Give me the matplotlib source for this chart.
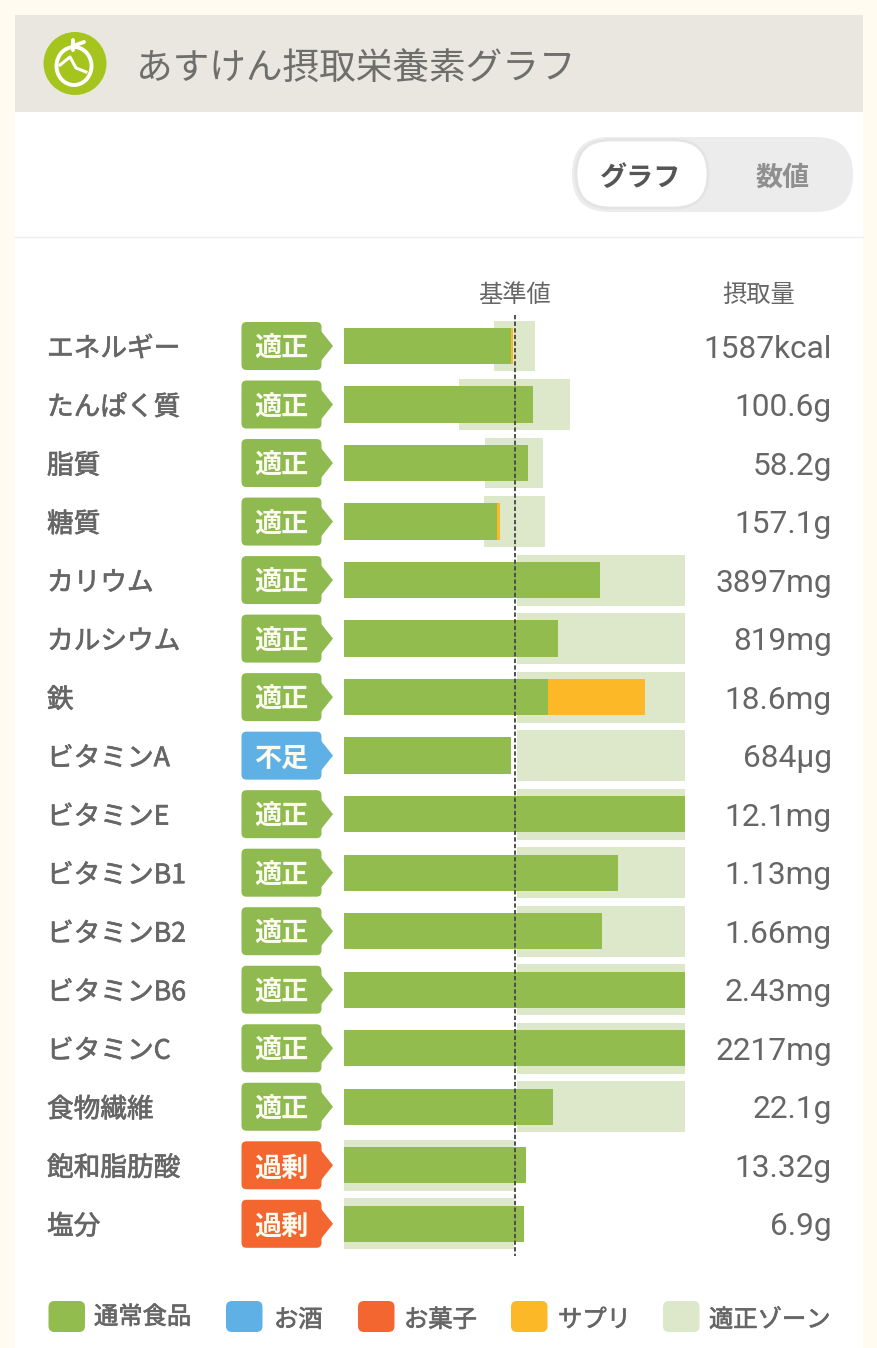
"""Recreate the asken nutrient intake bar chart screenshot."""
import matplotlib
matplotlib.use('Agg')
import matplotlib.pyplot as plt
import matplotlib.patheffects as pe
from matplotlib.patches import FancyBboxPatch, Polygon, Ellipse, Rectangle

plt.rcParams['font.family'] = ['Noto Sans CJK JP', 'DejaVu Sans']

# data, in % of the reference value (bar scale runs to XMAX, the clip edge)
XMAX = 199.4
nutrients = ['エネルギー', 'たんぱく質', '脂質', '糖質', 'カリウム', 'カルシウム', '鉄',
             'ビタミンA', 'ビタミンE', 'ビタミンB1', 'ビタミンB2', 'ビタミンB6',
             'ビタミンC', '食物繊維', '飽和脂肪酸', '塩分']
status = ['適正', '適正', '適正', '適正', '適正', '適正', '適正', '不足',
          '適正', '適正', '適正', '適正', '適正', '適正', '過剰', '過剰']
amounts = ['1587kcal', '100.6g', '58.2g', '157.1g', '3897mg', '819mg', '18.6mg', '684μg',
           '12.1mg', '1.13mg', '1.66mg', '2.43mg', '2217mg', '22.1g', '13.32g', '6.9g']
food = [97.7, 110.8, 107.4, 89.3, 149.7, 125.4, 119.3, 97.5,
        199.4, 160.5, 150.9, 199.4, 199.4, 122.5, 106.4, 105.3]
supplement = [1.2, 0, 0, 1.9, 0, 0, 56.7, 0, 0, 0, 0, 0, 0, 0, 0, 0]
zone_low = [87.9, 67.0, 82.6, 82.0, 101, 101, 101, 101,
            101, 101, 101, 101, 101, 101, 0, 0]
zone_high = [111.5, 132.3, 116.2, 117.4, 199.4, 199.4, 199.4, 199.4,
             199.4, 199.4, 199.4, 199.4, 199.4, 199.4, 99.5, 99.5]
legend_labels = ['通常食品', 'お酒', 'お菓子', 'サプリ', '適正ゾーン']

GREEN = '#92bc4d'
PALE = '#dde8cb'
BLUE = '#5eb0e5'
ORANGE = '#f4662f'
YELLOW = '#fdb827'
TEXT = '#666666'
badge_colors = {'適正': '#8fba4f', '不足': BLUE, '過剰': ORANGE}

W, H = 878, 1348
ROW0, STEP = 346.0, 58.52
# Noto CJK has no medium weight here, so thicken the regular one a little
MEDIUM = [pe.withStroke(linewidth=0.5, foreground=TEXT)]

fig = plt.figure(figsize=(W / 100, H / 100), dpi=100, facecolor='#fffbf0')

# page furniture lives in a pixel-coordinate axes
bg = fig.add_axes([0, 0, 1, 1])
bg.set_xlim(0, W)
bg.set_ylim(H, 0)
bg.axis('off')
bg.add_patch(Rectangle((15, 15), 848, H, fc='white', ec='none'))
bg.add_patch(Rectangle((15, 15), 848, 97, fc='#e9e7df', ec='none'))
bg.plot([15, 863], [237, 237], color='#eeeeee', lw=1)

# apple icon
bg.add_patch(Ellipse((75, 63.5), 63, 63, fc='#a6c41e', ec='none'))
bg.add_patch(Ellipse((74, 66), 35, 38, fc='none', ec='white', lw=2.8))
bg.plot([73, 73], [40, 50], color='white', lw=2.8, solid_capstyle='round')
bg.plot([73, 84], [46, 42], color='white', lw=2.8, solid_capstyle='round')
bg.plot([60, 70, 76, 86], [65, 57, 68, 72], color='white', lw=2.2)

bg.text(136, 69, 'あすけん摂取栄養素グラフ', fontsize=26.4, color='#6e6e6a', ha='left', va='center')

# toggle
bg.add_patch(FancyBboxPatch((572, 137), 281, 75, boxstyle='round,pad=0,rounding_size=37',
                            fc='#ececec', ec='none'))
bg.add_patch(FancyBboxPatch((576, 140), 132, 68, boxstyle='round,pad=0,rounding_size=34',
                            fc='white', ec='#e4e4e4', lw=2))
bg.text(641, 178, 'グラフ', fontsize=19.5, fontweight='bold', color='#555555', ha='center', va='center')
bg.text(783, 178, '数値', fontsize=19.5, fontweight='bold', color='#8f8f8f', ha='center', va='center')

# column heads
bg.text(514.5, 295, '基準値', fontsize=17.5, color=TEXT, ha='center', va='center')
bg.text(759, 295, '摂取量', fontsize=17.5, color=TEXT, ha='center', va='center')

# row labels, badges and intake values
for i, name in enumerate(nutrients):
    y = ROW0 + i * STEP
    bg.text(47, y + 3, name, fontsize=19.2, color=TEXT, ha='left', va='center', path_effects=MEDIUM)
    c = badge_colors[status[i]]
    bg.add_patch(FancyBboxPatch((241.5, y - 24), 80, 48, boxstyle='round,pad=0,rounding_size=5',
                                fc=c, ec='none'))
    bg.add_patch(Polygon([(321, y - 15), (333, y), (321, y + 15)], closed=True, fc=c, ec='none'))
    bg.text(281.5, y + 3, status[i], fontsize=19.5, fontweight='bold', color='#fbfbf0', ha='center', va='center')
    bg.text(832, y + 3, amounts[i], fontsize=22.8, color=TEXT, ha='right', va='center',
            family=['Roboto', 'DejaVu Sans'])

# legend swatches
legend_colors = [GREEN, BLUE, ORANGE, YELLOW, PALE]
swatch_x = [48.5, 226, 358, 511, 663]
label_x = [94, 274, 404, 558, 709]
label_y = [1317, 1320, 1320, 1320, 1320]
for sx, lx, ly, c, lab in zip(swatch_x, label_x, label_y, legend_colors, legend_labels):
    bg.add_patch(FancyBboxPatch((sx, 1301), 36.5, 31, boxstyle='round,pad=0,rounding_size=6',
                                fc=c, ec='none'))
    bg.text(lx, ly, lab, fontsize=17.5, color=TEXT, ha='left', va='center', path_effects=MEDIUM)

# bars on a real value scale, spanning exactly px 344..685
ax = fig.add_axes([344 / W, 1 - (ROW0 + 15.5 * STEP) / H, 341 / W, 16 * STEP / H])
ax.patch.set_alpha(0)
ax.set_xlim(0, XMAX)
ax.set_ylim(15.5, -0.5)
ax.axis('off')
rows = list(range(len(nutrients)))
widths = [h - l for l, h in zip(zone_low, zone_high)]
ax.barh(rows, widths, left=zone_low, height=0.87, color=PALE, zorder=1)
ax.barh(rows, food, height=0.62, color=GREEN, zorder=2)
ax.barh(rows, supplement, left=food, height=0.62, color=YELLOW, zorder=2)
ax.plot([100, 100], [-0.53, 15.55], color='#4f4f4f', lw=1.4, ls=(0, (2.2, 1.2)),
        clip_on=False, zorder=3)

fig.savefig('out.png', dpi=100, facecolor=fig.get_facecolor())
print("Saved out.png")
